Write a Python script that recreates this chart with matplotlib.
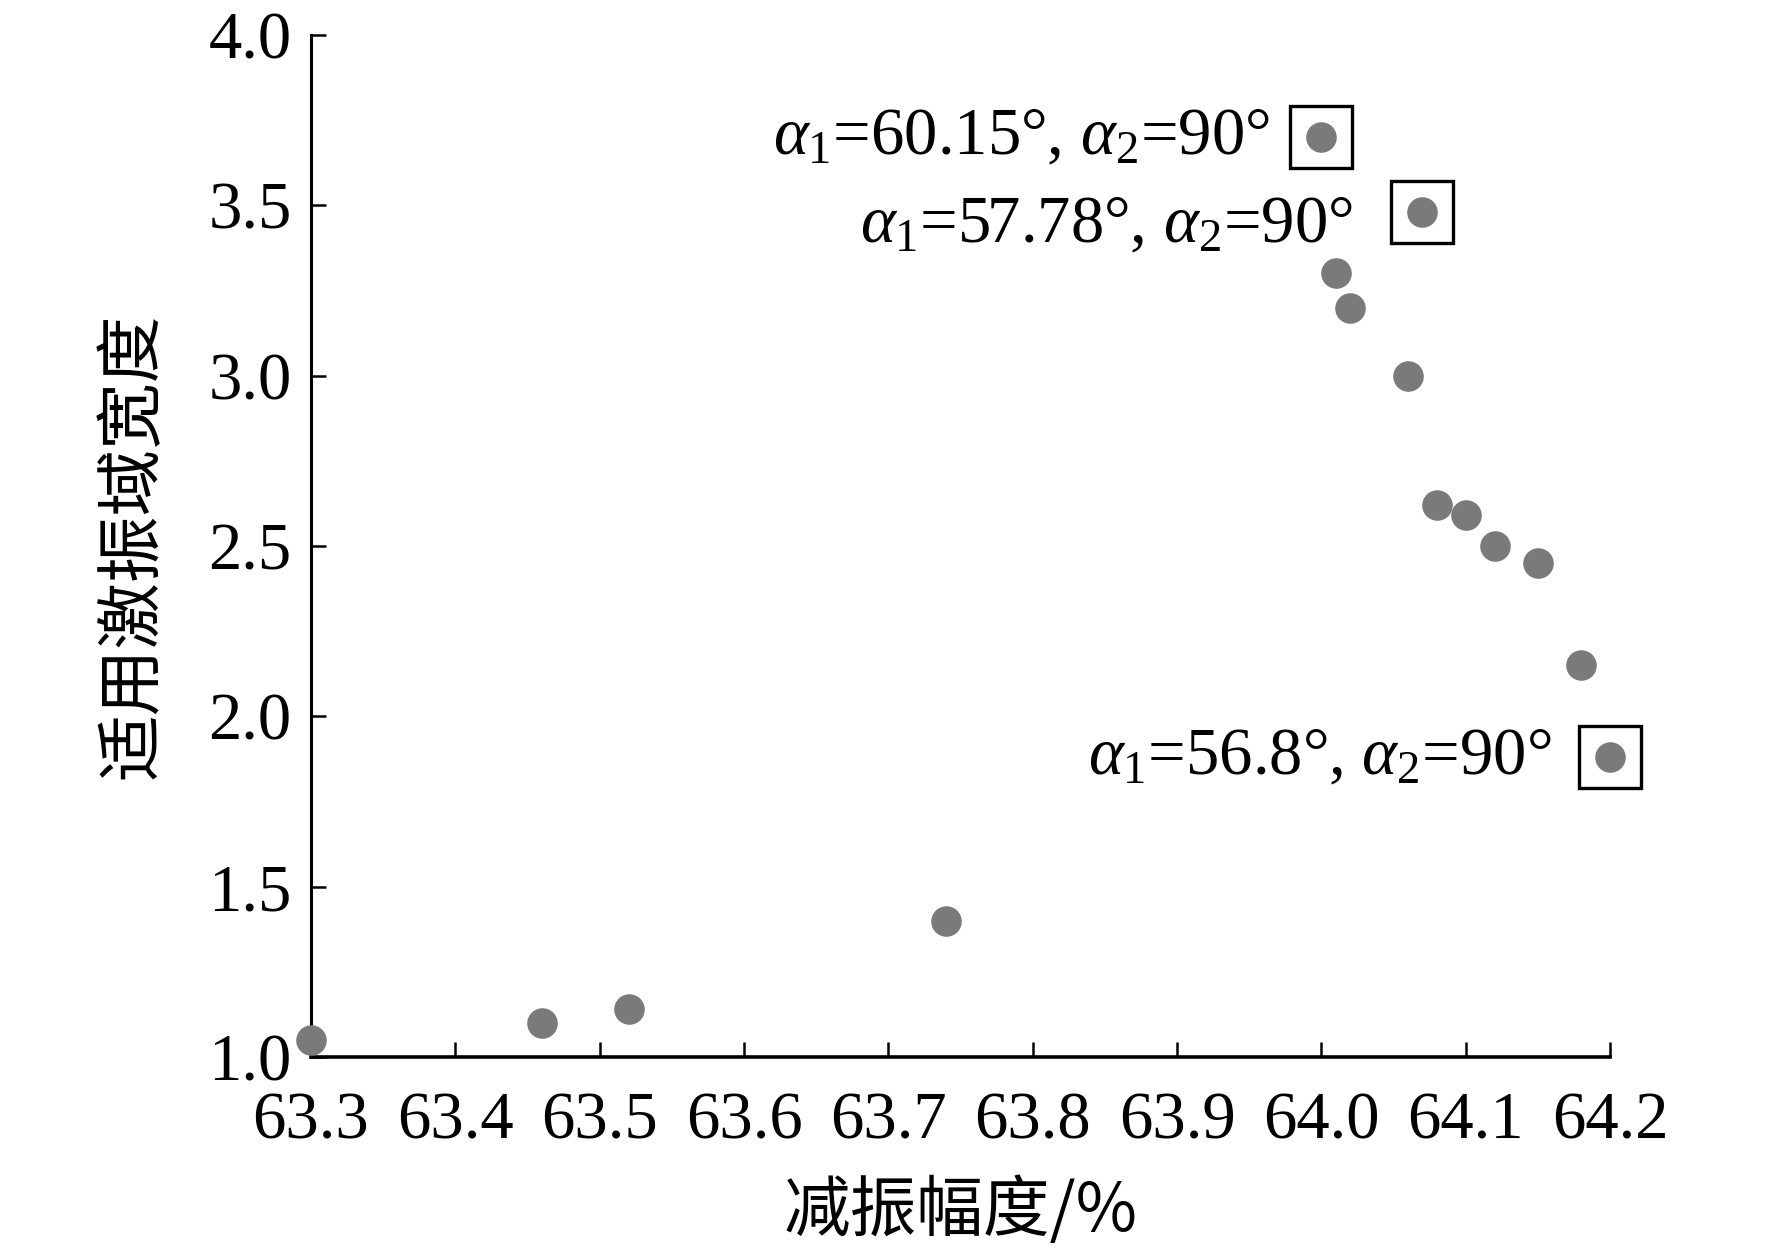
import matplotlib
matplotlib.use("Agg")
import matplotlib.pyplot as plt

# 减振幅度 (%) vs 适用激振域宽度
amplitude = [63.30, 63.46, 63.52, 63.74, 64.00, 64.07, 64.01, 64.02, 64.06,
             64.08, 64.10, 64.12, 64.15, 64.18, 64.20]
width = [1.05, 1.10, 1.14, 1.40, 3.70, 3.48, 3.30, 3.20, 3.00,
         2.62, 2.59, 2.50, 2.45, 2.15, 1.88]

# points marked with a box and their angle labels
marked_idx = [4, 5, 14]
marked_labels = [r'$\alpha_1$=60.15°, $\alpha_2$=90°',
                 r'$\alpha_1$=57.78°, $\alpha_2$=90°',
                 r'$\alpha_1$=56.8°, $\alpha_2$=90°']

xticks = [63.3, 63.4, 63.5, 63.6, 63.7, 63.8, 63.9, 64.0, 64.1, 64.2]
yticks = [1.0, 1.5, 2.0, 2.5, 3.0, 3.5, 4.0]

plt.rcParams['font.family'] = ['Liberation Serif', 'Noto Sans CJK SC']
plt.rcParams['mathtext.fontset'] = 'custom'
plt.rcParams['mathtext.rm'] = 'Liberation Serif'
plt.rcParams['mathtext.it'] = 'Liberation Serif:italic'

fig = plt.figure(figsize=(17.72, 12.52), dpi=100)
ax = fig.add_axes([0.1755, 0.1558, 0.7331, 0.8162])

ax.plot(amplitude, width, 'o', color='#7a7a7a', markersize=21, clip_on=False, zorder=3)
ax.plot([amplitude[i] for i in marked_idx], [width[i] for i in marked_idx], 's',
        markersize=45, markerfacecolor='none', markeredgecolor='black',
        markeredgewidth=2.4, clip_on=False, zorder=4)

# label offsets in points, relative to the marked point
offsets = [(-37, 0), (-50, -9), (-42, 0)]
for i, lab, off in zip(marked_idx, marked_labels, offsets):
    ax.annotate(lab, (amplitude[i], width[i]), xytext=off, textcoords='offset points',
                ha='right', va='center', fontsize=48)

ax.set_xlim(63.3, 64.2)
ax.set_ylim(1.0, 4.0)
ax.set_xticks(xticks)
ax.set_yticks(yticks)
ax.set_xticklabels(['%.1f' % v for v in xticks])
ax.set_yticklabels(['%.1f' % v for v in yticks])

for s in ['top', 'right']:
    ax.spines[s].set_visible(False)
ax.spines['left'].set_linewidth(2.2)
ax.spines['bottom'].set_linewidth(2.6)
ax.tick_params(axis='both', direction='in', length=11, width=1.8, labelsize=48)
ax.tick_params(axis='x', pad=25)
ax.tick_params(axis='y', pad=14)

ax.set_xlabel('减振幅度/%', fontsize=48, family=['Noto Sans CJK SC', 'Liberation Serif'], labelpad=18)
ax.set_ylabel('适用激振域宽度', fontsize=48, family=['Noto Sans CJK SC'], labelpad=30)

fig.savefig('out.png', dpi=100)
